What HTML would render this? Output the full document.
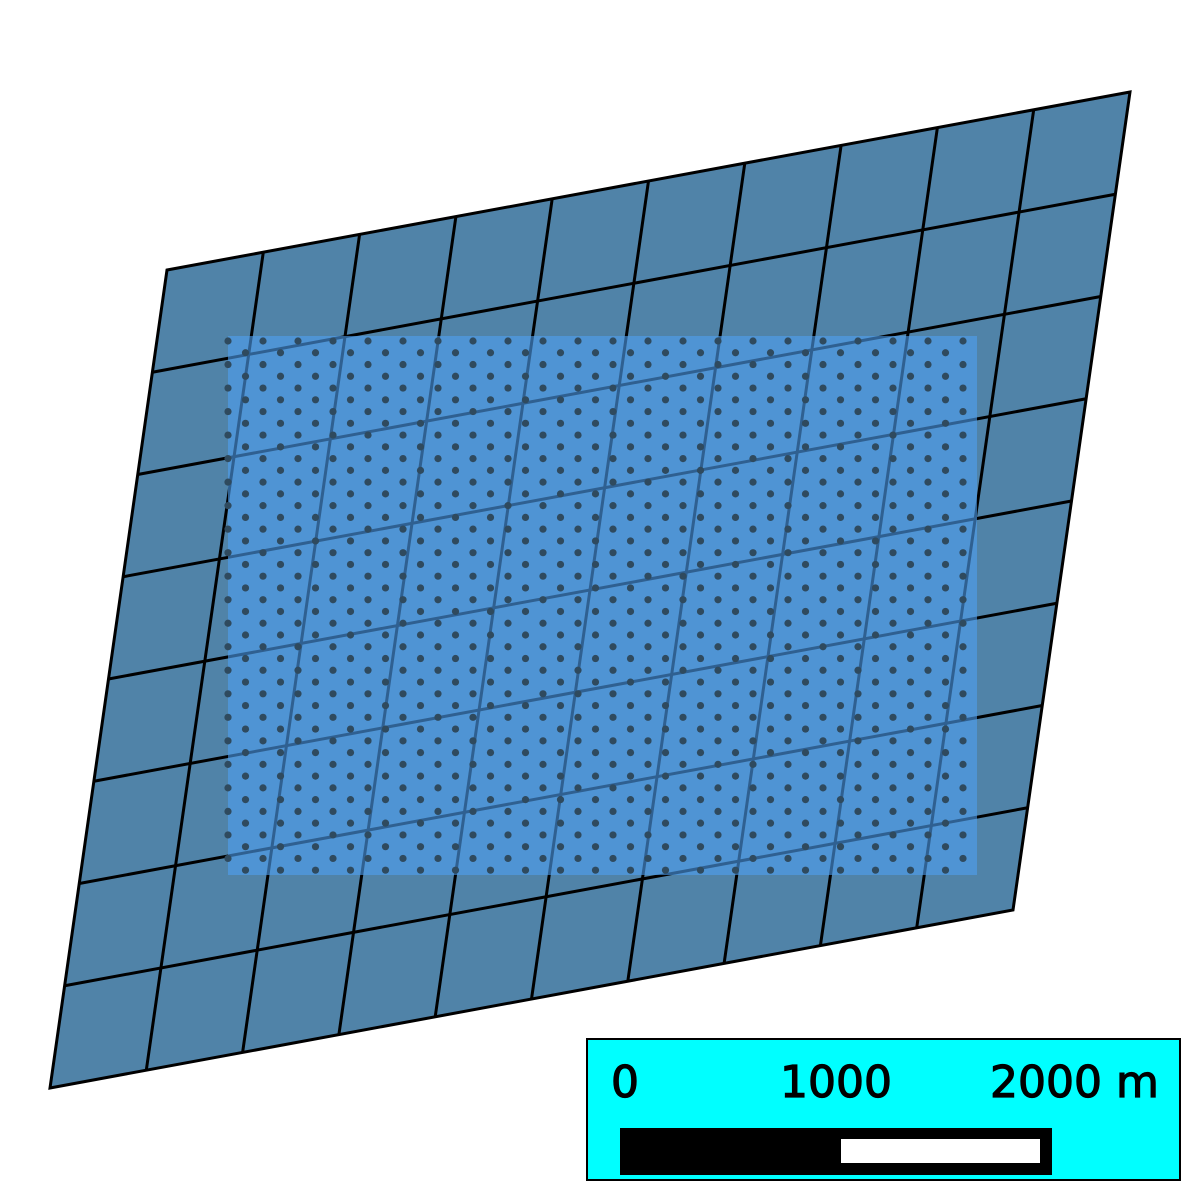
<!DOCTYPE html>
<html><head><meta charset="utf-8"><style>
html,body{margin:0;padding:0;background:#fff;}
svg{display:block;}
</style></head><body>
<svg id="map" width="1181" height="1181" viewBox="0 0 1181 1181" xmlns="http://www.w3.org/2000/svg">
<g id="grid"></g>
<rect x="228" y="336" width="749" height="539" fill="rgb(78,160,242)" fill-opacity="0.6"/>
<g id="dots"></g>
<g>
<rect x="587" y="1039" width="593" height="141" fill="#00ffff" stroke="#000" stroke-width="2"/>
<g font-family="'DejaVu Sans','Liberation Sans',sans-serif" font-size="44" fill="#000" stroke="#000" stroke-width="1.2">
<text x="611" y="1097">0</text>
<text x="780" y="1097">1000</text>
<text x="990" y="1097">2000 m</text>
</g>
<rect x="620" y="1128" width="432" height="47" fill="#000"/>
<rect x="841" y="1139" width="199" height="24" fill="#fff"/>
</g>
</svg>
<script>
const cols = 10;
const rows = 8;
const TL = [167,270], TR = [1130,92], BL = [50,1088];
const NS='http://www.w3.org/2000/svg';
const g=document.getElementById('grid');
function P(u,v){return [TL[0]+(TR[0]-TL[0])*u+(BL[0]-TL[0])*v, TL[1]+(TR[1]-TL[1])*u+(BL[1]-TL[1])*v];}
const poly=document.createElementNS(NS,'polygon');
const c=[P(0,0),P(1,0),P(1,1),P(0,1)];
poly.setAttribute('points',c.map(p=>p.join(',')).join(' '));
poly.setAttribute('fill','#5083a8');
poly.setAttribute('stroke','#000');
poly.setAttribute('stroke-width','3');


g.appendChild(poly);
function line(a,b,name){
 const l=document.createElementNS(NS,'line');
 l.setAttribute('x1',a[0]);l.setAttribute('y1',a[1]);l.setAttribute('x2',b[0]);l.setAttribute('y2',b[1]);
 l.setAttribute('stroke','#000');l.setAttribute('stroke-width','3');
 
 
 g.appendChild(l);
}
for(let i=1;i<cols;i++) line(P(i/cols,0),P(i/cols,1),'grid-column-line');
for(let j=1;j<rows;j++) line(P(0,j/rows),P(1,j/rows),'grid-row-line');
const d=document.getElementById('dots');
for(let r=0;r<46;r++){
 const y=341+r*11.76;
 const x0=(r%2===0)?228:245.5;
 for(let x=x0;x<=972;x+=35){
  const ci=document.createElementNS(NS,'circle');
  ci.setAttribute('cx',x);ci.setAttribute('cy',y);ci.setAttribute('r',3.6);
  ci.setAttribute('fill','#2f4a5e');
  
  
  d.appendChild(ci);
 }
}
</script>
</body></html>
